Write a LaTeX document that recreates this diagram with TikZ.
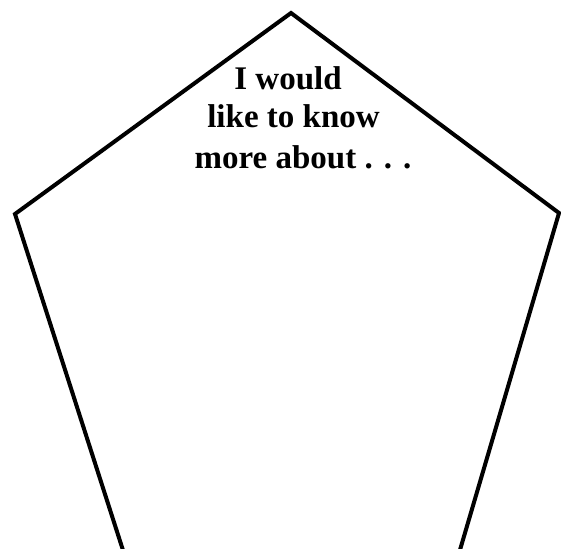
\documentclass[tikz,border=0pt]{standalone}
\usepackage{fontspec}
\setmainfont{Liberation Serif}
\usetikzlibrary{calc}
\begin{document}
\begin{tikzpicture}[x=1pt,y=-1pt,
  edge/.style={line width=4pt,line join=miter,black},
  txt/.style={font=\fontsize{33}{39}\selectfont\bfseries,inner sep=0pt,anchor=base}]
\useasboundingbox (0,0) rectangle (561,548);
\coordinate (top) at (291,13);
\coordinate (left) at (15,214);
\coordinate (right) at (559,213);
\coordinate (bl) at (122,548);
\coordinate (br) at (461,548);
\begin{scope}
\clip (0,0) rectangle (561,548);
\draw[edge] ($(bl)+(2.2,6)$) -- (left) -- (top) -- (right) -- ($(br)+(-2.2,6)$);
\end{scope}
\node[txt] (l1) at (288,90) {I would};
\node[txt] (l2) at (293.5,128) {like to know};
\node[txt] (l3) at (303,168) {more about . . .};
\end{tikzpicture}
\end{document}
